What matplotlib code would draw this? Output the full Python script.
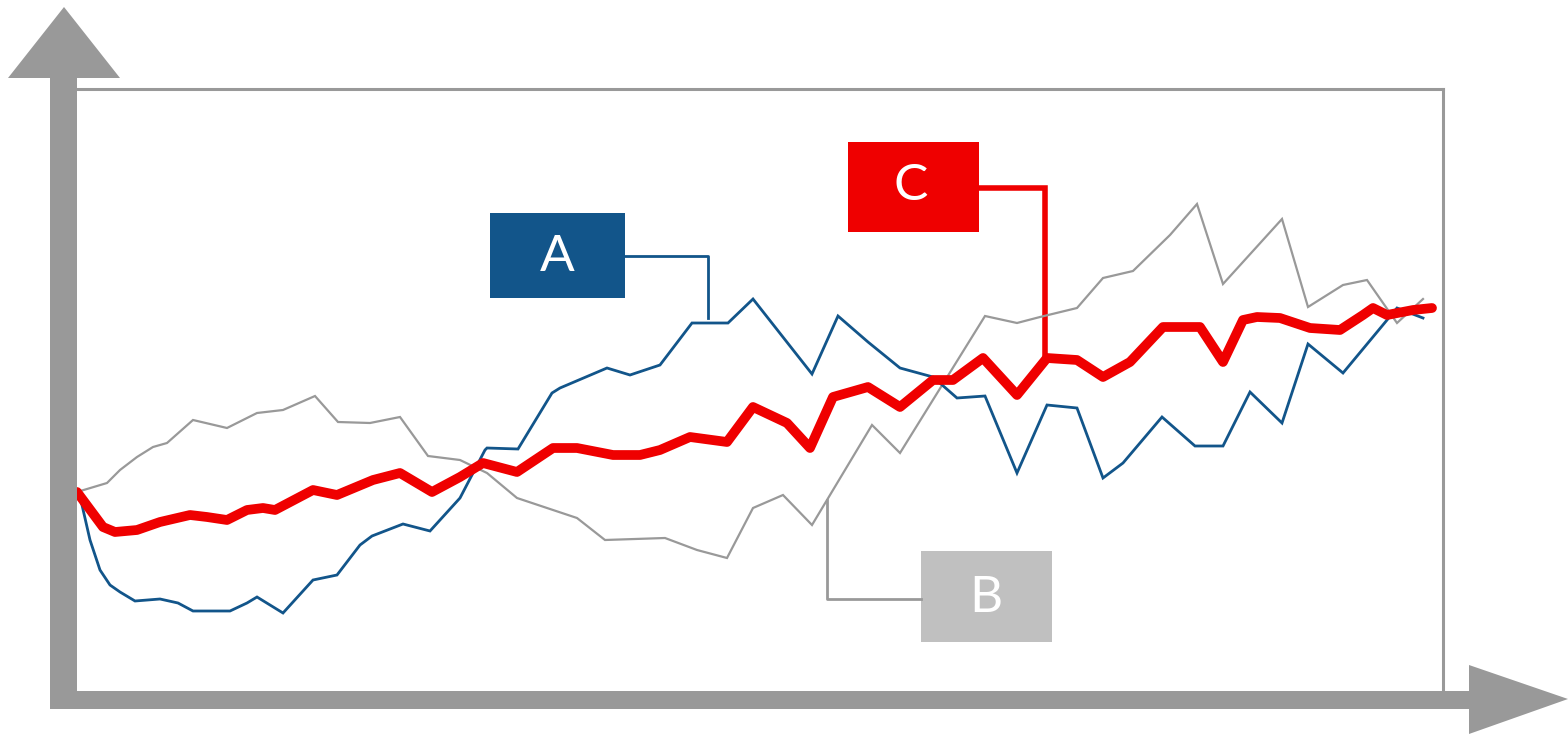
import matplotlib
matplotlib.use("Agg")
import matplotlib.pyplot as plt
from matplotlib.patches import Polygon, Rectangle

# ---- data (arbitrary units) ----
a_x = [0, 5, 13, 23, 33, 43, 58, 83, 101, 116, 153, 170, 180, 206, 236, 260, 283, 295, 326, 353,
       383, 408, 410, 441, 475, 483, 530, 553, 583, 615, 651, 676, 735, 761, 791, 823, 856, 880,
       908, 940, 970, 1000, 1026, 1046, 1085, 1118, 1146, 1173, 1205, 1231, 1266, 1320, 1346]
a_y = [200, 187, 152, 122, 107, 100, 91, 93, 89, 81, 81, 89, 95, 79, 112, 117, 147, 156, 168, 161,
       194, 242, 244, 243, 299, 304, 324, 317, 327, 369, 369, 393, 318, 376, 350, 324, 315, 294,
       296, 219, 287, 284, 214, 229, 275, 246, 246, 300, 269, 348, 319, 384, 374]

b_x = [0, 10, 30, 43, 60, 76, 90, 116, 150, 180, 206, 238, 261, 293, 323, 351, 383, 410, 440,
       470, 500, 528, 588, 620, 650, 676, 706, 735, 750, 795, 823, 908, 940, 963, 1000, 1026,
       1056, 1093, 1120, 1146, 1205, 1231, 1266, 1290, 1320, 1346]
b_y = [200, 203, 209, 222, 235, 245, 249, 272, 264, 279, 282, 296, 270, 269, 275, 236, 232, 219,
       194, 184, 174, 152, 154, 142, 134, 184, 197, 167, 192, 267, 239, 376, 369, 375, 384, 414,
       421, 457, 488, 408, 473, 385, 407, 412, 369, 393]

c_x = [0, 26, 38, 60, 83, 113, 130, 150, 170, 186, 198, 236, 260, 296, 323, 355, 383, 406, 440,
       476, 500, 536, 563, 583, 613, 650, 676, 710, 733, 756, 791, 823, 856, 876, 906, 940, 970,
       1000, 1026, 1053, 1086, 1123, 1146, 1166, 1180, 1203, 1233, 1263, 1286, 1296, 1310, 1336, 1355]
c_y = [200, 165, 160, 162, 170, 177, 175, 172, 182, 184, 182, 202, 197, 212, 219, 200, 215, 229,
       220, 244, 244, 237, 237, 242, 255, 250, 285, 269, 244, 295, 305, 285, 312, 312, 334, 297,
       334, 332, 315, 330, 365, 365, 330, 372, 375, 374, 364, 362, 377, 384, 377, 382, 384]

labels = ["A", "B", "C"]

BLUE = "#12558a"
RED = "#ef0000"
GRAY = "#999999"
LIGHTGRAY = "#c0c0c0"

W, H = 1568, 734
fig = plt.figure(figsize=(W / 100, H / 100), dpi=100)

# overlay axes in pixel coordinates for decorations
ov = fig.add_axes([0, 0, 1, 1])
ov.set_xlim(0, W)
ov.set_ylim(H, 0)
ov.axis("off")

# data axes (the framed box)
L, R, T, B = 77, 1443, 89, 692
ax = fig.add_axes([L / W, (H - B) / H, (R - L) / W, (B - T) / H])
ax.set_xlim(0, R - L)
ax.set_ylim(0, B - T)
ax.set_xticks([])
ax.set_yticks([])
ax.patch.set_alpha(0)
for s in ["left", "bottom"]:
    ax.spines[s].set_visible(False)
for s in ["top", "right"]:
    ax.spines[s].set_color(GRAY)
    ax.spines[s].set_linewidth(2.2)

ax.plot(b_x, b_y, color=GRAY, lw=1.6, solid_joinstyle="miter", zorder=2)
ax.plot(a_x, a_y, color=BLUE, lw=2.0, solid_joinstyle="miter", zorder=3)
ax.plot(c_x, c_y, color=RED, lw=7.0, solid_joinstyle="round", solid_capstyle="round", zorder=4)

# axis arrows
ov.add_patch(Rectangle((50, 76), 27, 633, color=GRAY, lw=0, zorder=5))
ov.add_patch(Polygon([(8, 78), (120, 78), (64, 7)], closed=True, color=GRAY, lw=0, zorder=5))
ov.add_patch(Rectangle((50, 691), 1420, 18, color=GRAY, lw=0, zorder=5))
ov.add_patch(Polygon([(1469, 665), (1469, 734), (1568, 699)], closed=True, color=GRAY, lw=0, zorder=5))

# label boxes with connectors
font = dict(family=["Lato", "DejaVu Sans"], fontweight="normal", fontsize=37,
            color="white", ha="center", va="center")

# A
ov.add_patch(Rectangle((490, 213), 135, 85, color=BLUE, lw=0, zorder=6))
ov.plot([625, 708, 708], [256, 256, 318], color=BLUE, lw=2.0, zorder=6)
ov.text(557, 257, labels[0], zorder=7, **font)

# C
ov.add_patch(Rectangle((848, 142), 131, 90, color=RED, lw=0, zorder=6))
ov.plot([979, 1045, 1045], [188, 188, 356], color=RED, lw=4.0, solid_joinstyle="miter", zorder=6)
ov.text(911, 186, labels[2], zorder=7, **font)

# B
ov.add_patch(Rectangle((921, 551), 131, 91, color=LIGHTGRAY, lw=0, zorder=6))
ov.plot([827, 827, 921], [500, 599, 599], color=GRAY, lw=2.0, zorder=6)
ov.text(986, 598, labels[1], zorder=7, **font)

fig.savefig("out.png", dpi=100)
